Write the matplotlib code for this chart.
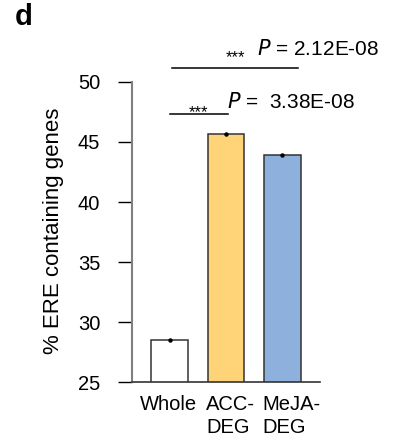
import matplotlib.pyplot as plt
import matplotlib.transforms as mtransforms
import numpy as np

plt.rcParams['font.family'] = ['Liberation Sans', 'DejaVu Sans']

categories = ["Whole", "ACC-\nDEG", "MeJA-\nDEG"]
values = [28.5, 45.7, 43.9]
errors = [0.05, 0.05, 0.05]
bar_colors = ["white", "#FFD479", "#8EB0DC"]
yticks = [25, 30, 35, 40, 45, 50]

fig = plt.figure(figsize=(3.93, 4.42), dpi=100)
ax = fig.add_axes([0.336, 0.1357, 0.478, 0.6788])

x = np.arange(len(categories))
ax.bar(x, values, width=0.65, color=bar_colors, edgecolor="#333333", linewidth=1.1, zorder=2)
ax.errorbar(x, values, yerr=errors, fmt="o", color="black", ms=2.2, capsize=0, lw=1, zorder=3)

ax.set_xlim(-0.664, 2.664)
ax.set_ylim(25, 50)
ax.set_yticks(yticks)
ax.set_xticks(x)
ax.set_xticklabels(categories, fontsize=14.5, multialignment="left", linespacing=1.3)
ax.tick_params(axis="x", length=0, pad=9)
ax.tick_params(axis="y", length=10, width=1, labelsize=14.5, pad=13)
# labels in the reference start near the left edge of each bar
for lbl, dx in zip(ax.get_xticklabels(), [-1.5, 4.5, 9]):
    lbl.set_transform(lbl.get_transform() +
                      mtransforms.ScaledTranslation(dx / 100, 0, fig.dpi_scale_trans))

for s in ["top", "right"]:
    ax.spines[s].set_visible(False)
ax.spines["left"].set_color("#808080")
ax.spines["left"].set_linewidth(1.5)
ax.spines["bottom"].set_color("#333333")
ax.spines["bottom"].set_linewidth(1.2)

fig.text(0.137, 0.477, "% ERE containing genes", rotation=90,
         ha="center", va="center", fontsize=16)

# significance brackets
ax.plot([0.044, 2.27], [51.17, 51.17], color="black", lw=1.1, clip_on=False)
ax.text(1.16, 51.69, "***", ha="center", va="baseline", fontsize=12)
ax.text(1.55, 52.25, r"$\it{P}$ = 2.12E-08", ha="left", va="baseline", fontsize=15)

ax.plot([0.01, 1.035], [47.33, 47.33], color="black", lw=1.1, clip_on=False)
ax.text(0.52, 47.11, "***", ha="center", va="baseline", fontsize=12)
ax.text(1.02, 47.8, r"$\it{P}$ =  3.38E-08", ha="left", va="baseline", fontsize=15)

fig.text(0.038, 0.993, "d", fontsize=21, fontweight="bold", ha="left", va="top")

fig.savefig("out.png", dpi=100)
